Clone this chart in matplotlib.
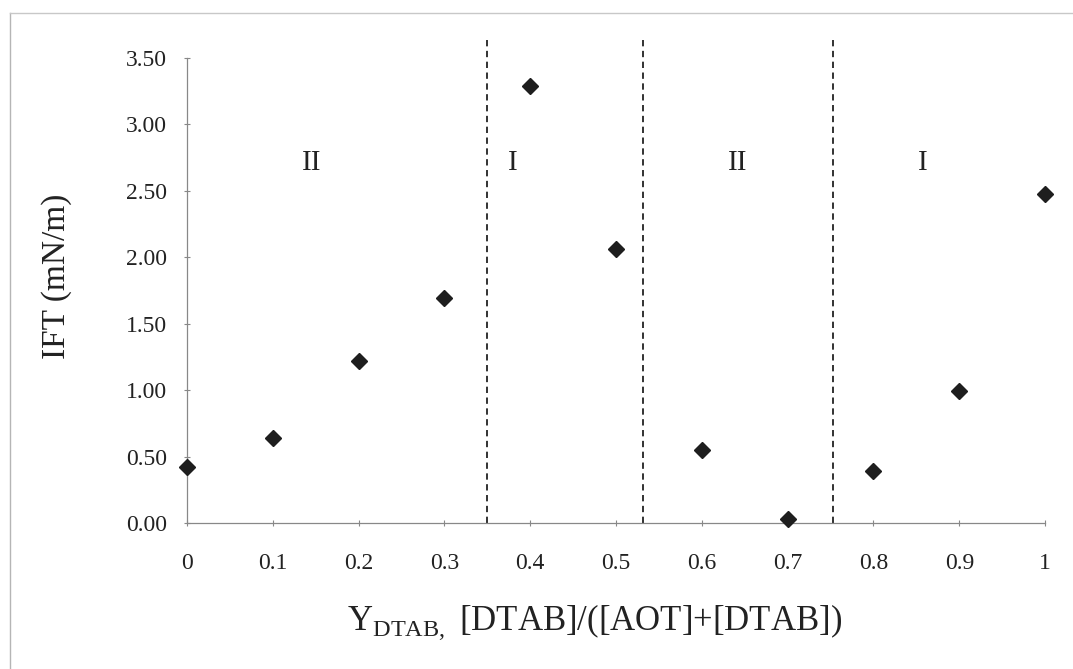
import numpy as np
import matplotlib
matplotlib.use('Agg')
import matplotlib.pyplot as plt
from matplotlib.lines import Line2D

plt.rcParams['font.family'] = ['Liberation Serif', 'DejaVu Serif']

# data
y_dtab = [0, 0.1, 0.2, 0.3, 0.4, 0.5, 0.6, 0.7, 0.8, 0.9, 1.0]
ift = [0.42, 0.64, 1.22, 1.69, 3.29, 2.06, 0.55, 0.03, 0.39, 0.99, 2.48]
boundaries = [0.35, 0.531, 0.753]
region_x = [0.145, 0.38, 0.642, 0.858]
region_lbl = ['II', 'I', 'II', 'I']
xticks = [0, 0.1, 0.2, 0.3, 0.4, 0.5, 0.6, 0.7, 0.8, 0.9, 1.0]
xtick_lbl = ['0', '0.1', '0.2', '0.3', '0.4', '0.5', '0.6', '0.7', '0.8', '0.9', '1']
yticks = [0, 0.5, 1.0, 1.5, 2.0, 2.5, 3.0, 3.5]

fig = plt.figure(figsize=(10.73, 6.69), dpi=100)
ax = fig.add_axes([0.1743, 0.2182, 0.7997, 0.6951])

# frame lines (left and top) of the scanned page
fig.lines.append(Line2D([0.0095, 0.0095], [0.0, 0.981], transform=fig.transFigure,
                        color='#b5b5b5', lw=1.0))
fig.lines.append(Line2D([0.0095, 1.0], [0.981, 0.981], transform=fig.transFigure,
                        color='#c8c8c8', lw=1.0))

ax.plot(y_dtab, ift, linestyle='none', marker='D', markersize=8,
        color='#1e1e1e', clip_on=False, zorder=3)

for b in boundaries:
    ax.plot([b, b], [0, 3.66], linestyle=(0, (3.5, 2.5)), color='#222222',
            lw=1.3, clip_on=False)

for xr, lab in zip(region_x, region_lbl):
    ax.text(xr, 2.71, lab, ha='center', va='center', fontsize=21, color='#222222')

ax.set_xlim(0, 1.0)
ax.set_ylim(0, 3.5)
ax.set_xticks(xticks)
ax.set_xticklabels(xtick_lbl)
ax.set_yticks(yticks)
ax.set_yticklabels(['%.2f' % v for v in yticks])
ax.tick_params(labelsize=17, colors='#222222', direction='inout', length=5,
               width=0.8, color='#888888')
ax.tick_params(axis='x', pad=19)
ax.tick_params(axis='y', pad=12)

for s in ['top', 'right']:
    ax.spines[s].set_visible(False)
for s in ['left', 'bottom']:
    ax.spines[s].set_color('#888888')
    ax.spines[s].set_linewidth(0.9)

ax.set_ylabel('IFT (mN/m)', fontsize=24, color='#222222')
ax.yaxis.set_label_coords(-0.134, 0.53)
fig.text(595 / 1073, 1 - 630 / 669,
         r'Y$_{\mathregular{DTAB,}}$ [DTAB]/([AOT]+[DTAB])',
         fontsize=25, color='#222222', ha='center', va='baseline')

fig.savefig('out.png', dpi=100)
